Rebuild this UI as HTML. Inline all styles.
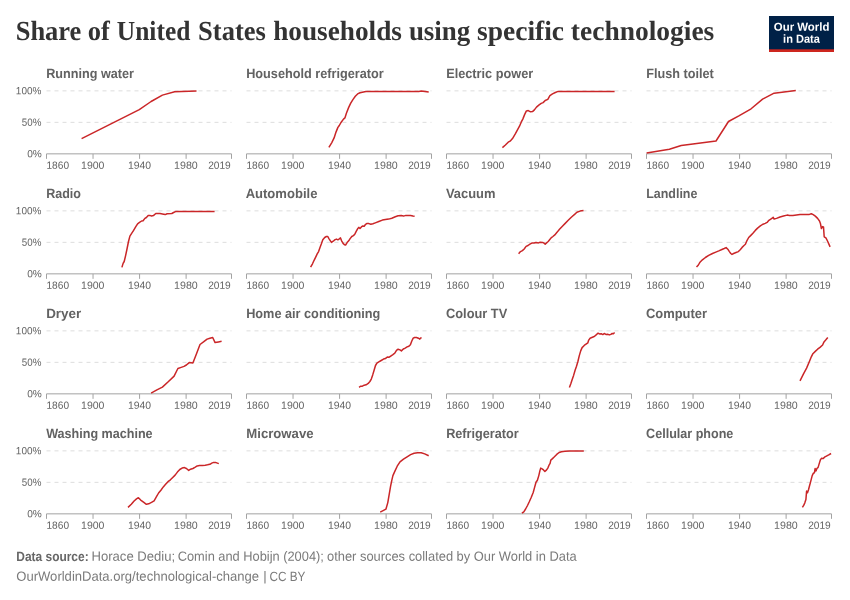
<!DOCTYPE html>
<html><head><meta charset="utf-8"><title>Share of United States households using specific technologies</title>
<style>
html,body{margin:0;padding:0;background:#fff;}
body{width:850px;height:600px;overflow:hidden;font-family:"Liberation Sans",sans-serif;}
svg{display:block;will-change:transform;}
svg text{font-family:"Liberation Sans",sans-serif;text-rendering:geometricPrecision;}
.ttl{font-family:"Liberation Serif",serif;font-weight:bold;font-size:27.6px;fill:#333333;}
.pt{font-size:13.5px;font-weight:bold;fill:#626262;}
.tk{font-size:10.4px;fill:#636363;}
.ft{font-size:13.4px;fill:#7a7a7a;}
.ftb{font-weight:bold;fill:#676767;}
.lg{font-size:11.6px;font-weight:bold;fill:#ffffff;}
.gl{stroke:#dddddd;stroke-width:1;stroke-dasharray:4 4;fill:none;}
.ax{stroke:#a3a3a3;stroke-width:1;fill:none;}
.ln{stroke:#ca2628;stroke-width:1.5;fill:none;stroke-linejoin:round;stroke-linecap:butt;}
</style></head><body>
<svg width="850" height="600" viewBox="0 0 850 600">
<rect x="0" y="0" width="850" height="600" fill="#ffffff"/>
<text transform="rotate(0.03 15.67 40.0)" class="ttl" x="15.67" y="40.0" textLength="65.72" lengthAdjust="spacingAndGlyphs">Share</text>
<text transform="rotate(0.03 87.81 40.0)" class="ttl" x="87.81" y="40.0" textLength="22.06" lengthAdjust="spacingAndGlyphs">of</text>
<text transform="rotate(0.03 116.86 40.0)" class="ttl" x="116.86" y="40.0" textLength="73.47" lengthAdjust="spacingAndGlyphs">United</text>
<text transform="rotate(0.03 198.10 40.0)" class="ttl" x="198.10" y="40.0" textLength="67.78" lengthAdjust="spacingAndGlyphs">States</text>
<text transform="rotate(0.03 273.21 40.0)" class="ttl" x="273.21" y="40.0" textLength="128.71" lengthAdjust="spacingAndGlyphs">households</text>
<text transform="rotate(0.03 408.89 40.0)" class="ttl" x="408.89" y="40.0" textLength="61.46" lengthAdjust="spacingAndGlyphs">using</text>
<text transform="rotate(0.03 477.06 40.0)" class="ttl" x="477.06" y="40.0" textLength="87.00" lengthAdjust="spacingAndGlyphs">specific</text>
<text transform="rotate(0.03 570.86 40.0)" class="ttl" x="570.86" y="40.0" textLength="143.42" lengthAdjust="spacingAndGlyphs">technologies</text>
<g>
<rect x="769" y="16" width="65" height="36" fill="#002147"/>
<rect x="769" y="49.3" width="65" height="2.7" fill="#ce261e"/>
<text transform="rotate(0.03 801.6 30.7)" class="lg" x="801.6" y="30.7" text-anchor="middle" textLength="55.6" lengthAdjust="spacingAndGlyphs">Our World</text>
<text transform="rotate(0.03 801.5 42.8)" class="lg" x="801.5" y="42.8" text-anchor="middle" textLength="36.8" lengthAdjust="spacingAndGlyphs">in Data</text>
</g>
<g>
<text transform="rotate(0.03 46.20 78.0)" class="pt" x="46.20" y="78.0" textLength="87.69" lengthAdjust="spacingAndGlyphs">Running water</text>
<path class="gl" d="M46.50 90.85H231.50 M46.50 122.35H231.50"/>
<path class="ax" d="M46.50 153.85H231.50 M46.50 153.85V158.85 M93.04 153.85V158.85 M139.58 153.85V158.85 M186.12 153.85V158.85 M231.50 153.85V158.85"/>
<text transform="rotate(0.03 46.47 168.80)" class="tk" x="46.47" y="168.80" textLength="22.57" lengthAdjust="spacingAndGlyphs">1860</text>
<text transform="rotate(0.03 81.05 168.80)" class="tk" x="81.05" y="168.80" textLength="23.41" lengthAdjust="spacingAndGlyphs">1900</text>
<text transform="rotate(0.03 127.98 168.80)" class="tk" x="127.98" y="168.80" textLength="23.16" lengthAdjust="spacingAndGlyphs">1940</text>
<text transform="rotate(0.03 174.04 168.80)" class="tk" x="174.04" y="168.80" textLength="23.76" lengthAdjust="spacingAndGlyphs">1980</text>
<text transform="rotate(0.03 208.13 168.80)" class="tk" x="208.13" y="168.80" textLength="22.65" lengthAdjust="spacingAndGlyphs">2019</text>
<text transform="rotate(0.03 15.87 94.20)" class="tk" x="15.87" y="94.20" textLength="25.49" lengthAdjust="spacingAndGlyphs">100%</text>
<text transform="rotate(0.03 21.85 125.70)" class="tk" x="21.85" y="125.70" textLength="19.57" lengthAdjust="spacingAndGlyphs">50%</text>
<text transform="rotate(0.03 27.20 157.20)" class="tk" x="27.20" y="157.20" textLength="14.61" lengthAdjust="spacingAndGlyphs">0%</text>
<path class="ln" d="M81.6 138.6L139.3 109.7L151.1 101.5L162.4 95.1L174.6 91.8L196.5 91.1"/>
</g>
<g>
<text transform="rotate(0.03 246.17 78.0)" class="pt" x="246.17" y="78.0" textLength="137.54" lengthAdjust="spacingAndGlyphs">Household refrigerator</text>
<path class="gl" d="M246.50 90.85H431.50 M246.50 122.35H431.50"/>
<path class="ax" d="M246.50 153.85H431.50 M246.50 153.85V158.85 M293.04 153.85V158.85 M339.58 153.85V158.85 M386.12 153.85V158.85 M431.50 153.85V158.85"/>
<text transform="rotate(0.03 246.47 168.80)" class="tk" x="246.47" y="168.80" textLength="22.57" lengthAdjust="spacingAndGlyphs">1860</text>
<text transform="rotate(0.03 281.05 168.80)" class="tk" x="281.05" y="168.80" textLength="23.41" lengthAdjust="spacingAndGlyphs">1900</text>
<text transform="rotate(0.03 327.98 168.80)" class="tk" x="327.98" y="168.80" textLength="23.16" lengthAdjust="spacingAndGlyphs">1940</text>
<text transform="rotate(0.03 374.04 168.80)" class="tk" x="374.04" y="168.80" textLength="23.76" lengthAdjust="spacingAndGlyphs">1980</text>
<text transform="rotate(0.03 408.13 168.80)" class="tk" x="408.13" y="168.80" textLength="22.65" lengthAdjust="spacingAndGlyphs">2019</text>
<path class="ln" d="M328.9 147.4L331.8 142.6L334.1 137.9L336.0 132.1L337.9 127.4L339.3 125.5L341.2 122.2L343.5 119.1L344.9 117.9L346.4 113.2L348.7 107.4L350.6 103.4L352.9 99.6L355.3 96.3L357.6 93.9L360.0 92.8L365.9 91.4L418.8 91.4L421.2 91.1L428.7 92.1"/>
</g>
<g>
<text transform="rotate(0.03 446.16 78.0)" class="pt" x="446.16" y="78.0" textLength="87.02" lengthAdjust="spacingAndGlyphs">Electric power</text>
<path class="gl" d="M446.50 90.85H631.50 M446.50 122.35H631.50"/>
<path class="ax" d="M446.50 153.85H631.50 M446.50 153.85V158.85 M493.04 153.85V158.85 M539.58 153.85V158.85 M586.12 153.85V158.85 M631.50 153.85V158.85"/>
<text transform="rotate(0.03 446.47 168.80)" class="tk" x="446.47" y="168.80" textLength="22.57" lengthAdjust="spacingAndGlyphs">1860</text>
<text transform="rotate(0.03 481.05 168.80)" class="tk" x="481.05" y="168.80" textLength="23.41" lengthAdjust="spacingAndGlyphs">1900</text>
<text transform="rotate(0.03 527.98 168.80)" class="tk" x="527.98" y="168.80" textLength="23.16" lengthAdjust="spacingAndGlyphs">1940</text>
<text transform="rotate(0.03 574.04 168.80)" class="tk" x="574.04" y="168.80" textLength="23.76" lengthAdjust="spacingAndGlyphs">1980</text>
<text transform="rotate(0.03 608.13 168.80)" class="tk" x="608.13" y="168.80" textLength="22.65" lengthAdjust="spacingAndGlyphs">2019</text>
<path class="ln" d="M502.4 147.6L505.4 145.0L508.2 142.2L510.1 141.2L512.5 138.6L515.3 133.9L517.6 129.7L519.5 126.2L521.2 122.2L522.8 119.1L524.7 114.4L526.4 110.9L528.2 110.6L530.6 111.8L532.5 111.6L534.4 109.9L536.5 107.1L538.8 105.2L541.2 103.4L543.1 102.6L545.2 100.5L547.8 99.4L549.9 95.6L552.5 93.9L555.3 92.5L558.1 91.4L614.6 91.4"/>
</g>
<g>
<text transform="rotate(0.03 646.20 78.0)" class="pt" x="646.20" y="78.0" textLength="67.47" lengthAdjust="spacingAndGlyphs">Flush toilet</text>
<path class="gl" d="M646.50 90.85H831.50 M646.50 122.35H831.50"/>
<path class="ax" d="M646.50 153.85H831.50 M646.50 153.85V158.85 M693.04 153.85V158.85 M739.58 153.85V158.85 M786.12 153.85V158.85 M831.50 153.85V158.85"/>
<text transform="rotate(0.03 646.47 168.80)" class="tk" x="646.47" y="168.80" textLength="22.57" lengthAdjust="spacingAndGlyphs">1860</text>
<text transform="rotate(0.03 681.05 168.80)" class="tk" x="681.05" y="168.80" textLength="23.41" lengthAdjust="spacingAndGlyphs">1900</text>
<text transform="rotate(0.03 727.98 168.80)" class="tk" x="727.98" y="168.80" textLength="23.16" lengthAdjust="spacingAndGlyphs">1940</text>
<text transform="rotate(0.03 774.04 168.80)" class="tk" x="774.04" y="168.80" textLength="23.76" lengthAdjust="spacingAndGlyphs">1980</text>
<text transform="rotate(0.03 808.13 168.80)" class="tk" x="808.13" y="168.80" textLength="22.65" lengthAdjust="spacingAndGlyphs">2019</text>
<path class="ln" d="M646.6 153.0L669.4 149.2L681.2 145.5L692.9 144.1L716.0 141.0L728.5 121.5L739.3 115.6L751.1 108.8L762.6 99.1L774.1 93.2L795.8 90.6"/>
</g>
<g>
<text transform="rotate(0.03 46.22 198.0)" class="pt" x="46.22" y="198.0" textLength="34.78" lengthAdjust="spacingAndGlyphs">Radio</text>
<path class="gl" d="M46.50 210.85H231.50 M46.50 242.35H231.50"/>
<path class="ax" d="M46.50 273.85H231.50 M46.50 273.85V278.85 M93.04 273.85V278.85 M139.58 273.85V278.85 M186.12 273.85V278.85 M231.50 273.85V278.85"/>
<text transform="rotate(0.03 46.47 288.80)" class="tk" x="46.47" y="288.80" textLength="22.57" lengthAdjust="spacingAndGlyphs">1860</text>
<text transform="rotate(0.03 81.05 288.80)" class="tk" x="81.05" y="288.80" textLength="23.41" lengthAdjust="spacingAndGlyphs">1900</text>
<text transform="rotate(0.03 127.98 288.80)" class="tk" x="127.98" y="288.80" textLength="23.16" lengthAdjust="spacingAndGlyphs">1940</text>
<text transform="rotate(0.03 174.04 288.80)" class="tk" x="174.04" y="288.80" textLength="23.76" lengthAdjust="spacingAndGlyphs">1980</text>
<text transform="rotate(0.03 208.13 288.80)" class="tk" x="208.13" y="288.80" textLength="22.65" lengthAdjust="spacingAndGlyphs">2019</text>
<text transform="rotate(0.03 15.87 214.20)" class="tk" x="15.87" y="214.20" textLength="25.49" lengthAdjust="spacingAndGlyphs">100%</text>
<text transform="rotate(0.03 21.85 245.70)" class="tk" x="21.85" y="245.70" textLength="19.57" lengthAdjust="spacingAndGlyphs">50%</text>
<text transform="rotate(0.03 27.20 277.20)" class="tk" x="27.20" y="277.20" textLength="14.61" lengthAdjust="spacingAndGlyphs">0%</text>
<path class="ln" d="M121.9 267.4L123.1 263.4L124.2 261.5L125.6 255.6L127.1 248.5L128.5 241.5L129.9 236.1L131.8 233.2L133.6 230.4L135.8 226.6L137.6 223.8L139.5 222.4L141.6 221.0L143.1 220.8L144.9 218.4L146.4 217.5L148.2 215.6L149.9 215.4L151.5 216.1L153.4 215.6L155.8 213.5L160.0 213.5L162.4 213.9L165.2 214.6L167.1 213.7L171.8 213.5L173.6 212.5L176.0 211.4L214.6 211.4"/>
</g>
<g>
<text transform="rotate(0.03 245.63 198.0)" class="pt" x="245.63" y="198.0" textLength="71.78" lengthAdjust="spacingAndGlyphs">Automobile</text>
<path class="gl" d="M246.50 210.85H431.50 M246.50 242.35H431.50"/>
<path class="ax" d="M246.50 273.85H431.50 M246.50 273.85V278.85 M293.04 273.85V278.85 M339.58 273.85V278.85 M386.12 273.85V278.85 M431.50 273.85V278.85"/>
<text transform="rotate(0.03 246.47 288.80)" class="tk" x="246.47" y="288.80" textLength="22.57" lengthAdjust="spacingAndGlyphs">1860</text>
<text transform="rotate(0.03 281.05 288.80)" class="tk" x="281.05" y="288.80" textLength="23.41" lengthAdjust="spacingAndGlyphs">1900</text>
<text transform="rotate(0.03 327.98 288.80)" class="tk" x="327.98" y="288.80" textLength="23.16" lengthAdjust="spacingAndGlyphs">1940</text>
<text transform="rotate(0.03 374.04 288.80)" class="tk" x="374.04" y="288.80" textLength="23.76" lengthAdjust="spacingAndGlyphs">1980</text>
<text transform="rotate(0.03 408.13 288.80)" class="tk" x="408.13" y="288.80" textLength="22.65" lengthAdjust="spacingAndGlyphs">2019</text>
<path class="ln" d="M310.6 267.1L312.5 263.8L314.1 260.3L315.8 256.8L317.2 253.9L318.6 251.6L320.0 247.4L321.4 243.8L322.8 239.8L324.7 237.5L326.4 236.5L327.8 236.5L328.9 238.6L330.4 240.8L331.5 242.4L333.2 241.2L335.1 239.6L336.5 239.1L337.9 239.8L339.3 238.9L340.5 237.9L341.6 240.8L343.1 243.4L344.5 244.8L345.6 245.0L347.1 242.6L348.7 240.8L350.1 238.6L351.8 236.5L353.4 235.6L354.8 234.2L356.2 231.4L357.6 228.8L358.8 227.4L360.0 228.5L361.4 226.9L362.8 225.9L364.2 226.2L365.6 224.3L367.1 223.4L368.9 223.6L370.8 224.3L372.9 223.8L375.3 222.9L378.8 221.5L382.4 220.1L385.4 219.6L388.7 219.1L391.8 218.2L395.3 216.8L398.1 215.8L401.2 215.6L403.5 216.1L405.9 215.4L408.2 215.6L410.6 215.6L412.9 216.1L414.6 216.3"/>
</g>
<g>
<text transform="rotate(0.03 445.93 198.0)" class="pt" x="445.93" y="198.0" textLength="49.51" lengthAdjust="spacingAndGlyphs">Vacuum</text>
<path class="gl" d="M446.50 210.85H631.50 M446.50 242.35H631.50"/>
<path class="ax" d="M446.50 273.85H631.50 M446.50 273.85V278.85 M493.04 273.85V278.85 M539.58 273.85V278.85 M586.12 273.85V278.85 M631.50 273.85V278.85"/>
<text transform="rotate(0.03 446.47 288.80)" class="tk" x="446.47" y="288.80" textLength="22.57" lengthAdjust="spacingAndGlyphs">1860</text>
<text transform="rotate(0.03 481.05 288.80)" class="tk" x="481.05" y="288.80" textLength="23.41" lengthAdjust="spacingAndGlyphs">1900</text>
<text transform="rotate(0.03 527.98 288.80)" class="tk" x="527.98" y="288.80" textLength="23.16" lengthAdjust="spacingAndGlyphs">1940</text>
<text transform="rotate(0.03 574.04 288.80)" class="tk" x="574.04" y="288.80" textLength="23.76" lengthAdjust="spacingAndGlyphs">1980</text>
<text transform="rotate(0.03 608.13 288.80)" class="tk" x="608.13" y="288.80" textLength="22.65" lengthAdjust="spacingAndGlyphs">2019</text>
<path class="ln" d="M518.6 253.7L520.5 251.6L522.4 250.6L524.2 249.0L526.1 246.4L528.0 245.5L529.9 244.1L531.8 243.1L534.1 243.1L536.0 242.6L538.4 242.9L540.2 242.2L542.6 242.4L544.0 243.1L545.2 244.1L546.6 242.9L548.2 241.5L549.6 239.8L551.1 237.9L552.9 236.5L554.8 234.9L557.2 232.1L559.5 229.2L562.4 226.2L565.2 223.4L568.2 220.3L571.3 217.2L574.6 214.4L576.9 212.3L580.0 211.1L583.5 210.6"/>
</g>
<g>
<text transform="rotate(0.03 646.24 198.0)" class="pt" x="646.24" y="198.0" textLength="51.17" lengthAdjust="spacingAndGlyphs">Landline</text>
<path class="gl" d="M646.50 210.85H831.50 M646.50 242.35H831.50"/>
<path class="ax" d="M646.50 273.85H831.50 M646.50 273.85V278.85 M693.04 273.85V278.85 M739.58 273.85V278.85 M786.12 273.85V278.85 M831.50 273.85V278.85"/>
<text transform="rotate(0.03 646.47 288.80)" class="tk" x="646.47" y="288.80" textLength="22.57" lengthAdjust="spacingAndGlyphs">1860</text>
<text transform="rotate(0.03 681.05 288.80)" class="tk" x="681.05" y="288.80" textLength="23.41" lengthAdjust="spacingAndGlyphs">1900</text>
<text transform="rotate(0.03 727.98 288.80)" class="tk" x="727.98" y="288.80" textLength="23.16" lengthAdjust="spacingAndGlyphs">1940</text>
<text transform="rotate(0.03 774.04 288.80)" class="tk" x="774.04" y="288.80" textLength="23.76" lengthAdjust="spacingAndGlyphs">1980</text>
<text transform="rotate(0.03 808.13 288.80)" class="tk" x="808.13" y="288.80" textLength="22.65" lengthAdjust="spacingAndGlyphs">2019</text>
<path class="ln" d="M696.5 267.1L698.4 265.0L700.0 262.2L702.4 259.8L705.4 257.5L708.7 255.4L712.5 253.5L715.8 252.1L718.8 250.9L721.9 249.5L724.2 248.5L726.1 247.6L727.8 249.2L729.4 251.6L730.8 253.5L732.0 254.4L733.6 253.5L736.0 252.5L738.4 251.6L740.2 249.7L742.1 247.4L744.0 245.5L745.4 244.3L747.1 240.3L748.7 237.5L750.6 235.6L752.9 233.2L755.3 230.4L757.6 228.1L760.0 226.2L762.4 224.5L765.2 223.4L767.1 222.4L768.9 220.3L770.8 219.1L772.2 218.2L773.2 217.2L774.1 219.1L776.5 218.4L780.0 217.0L783.5 216.1L787.1 215.1L789.4 215.6L792.9 215.4L796.5 214.9L800.0 214.4L804.7 214.4L809.4 214.4L811.3 213.7L813.2 214.6L815.3 216.1L817.6 218.4L819.5 221.0L820.5 223.8L821.4 228.5L822.6 226.6L823.5 226.9L824.2 236.8L825.9 237.9L827.5 241.0L828.9 244.1L830.1 246.9"/>
</g>
<g>
<text transform="rotate(0.03 46.13 318.0)" class="pt" x="46.13" y="318.0" textLength="35.06" lengthAdjust="spacingAndGlyphs">Dryer</text>
<path class="gl" d="M46.50 330.85H231.50 M46.50 362.35H231.50"/>
<path class="ax" d="M46.50 393.85H231.50 M46.50 393.85V398.85 M93.04 393.85V398.85 M139.58 393.85V398.85 M186.12 393.85V398.85 M231.50 393.85V398.85"/>
<text transform="rotate(0.03 46.47 408.80)" class="tk" x="46.47" y="408.80" textLength="22.57" lengthAdjust="spacingAndGlyphs">1860</text>
<text transform="rotate(0.03 81.05 408.80)" class="tk" x="81.05" y="408.80" textLength="23.41" lengthAdjust="spacingAndGlyphs">1900</text>
<text transform="rotate(0.03 127.98 408.80)" class="tk" x="127.98" y="408.80" textLength="23.16" lengthAdjust="spacingAndGlyphs">1940</text>
<text transform="rotate(0.03 174.04 408.80)" class="tk" x="174.04" y="408.80" textLength="23.76" lengthAdjust="spacingAndGlyphs">1980</text>
<text transform="rotate(0.03 208.13 408.80)" class="tk" x="208.13" y="408.80" textLength="22.65" lengthAdjust="spacingAndGlyphs">2019</text>
<text transform="rotate(0.03 15.87 334.20)" class="tk" x="15.87" y="334.20" textLength="25.49" lengthAdjust="spacingAndGlyphs">100%</text>
<text transform="rotate(0.03 21.85 365.70)" class="tk" x="21.85" y="365.70" textLength="19.57" lengthAdjust="spacingAndGlyphs">50%</text>
<text transform="rotate(0.03 27.20 397.20)" class="tk" x="27.20" y="397.20" textLength="14.61" lengthAdjust="spacingAndGlyphs">0%</text>
<path class="ln" d="M151.1 393.2L156.9 389.9L162.4 387.1L168.5 381.5L174.1 376.1L177.9 368.5L181.2 367.4L184.0 366.4L186.4 365.0L189.2 362.6L192.9 363.1L196.5 353.7L200.0 344.5L203.5 341.9L207.1 339.1L209.9 338.2L212.7 337.5L215.1 342.6L218.4 341.9L221.6 341.2"/>
</g>
<g>
<text transform="rotate(0.03 246.17 318.0)" class="pt" x="246.17" y="318.0" textLength="134.13" lengthAdjust="spacingAndGlyphs">Home air conditioning</text>
<path class="gl" d="M246.50 330.85H431.50 M246.50 362.35H431.50"/>
<path class="ax" d="M246.50 393.85H431.50 M246.50 393.85V398.85 M293.04 393.85V398.85 M339.58 393.85V398.85 M386.12 393.85V398.85 M431.50 393.85V398.85"/>
<text transform="rotate(0.03 246.47 408.80)" class="tk" x="246.47" y="408.80" textLength="22.57" lengthAdjust="spacingAndGlyphs">1860</text>
<text transform="rotate(0.03 281.05 408.80)" class="tk" x="281.05" y="408.80" textLength="23.41" lengthAdjust="spacingAndGlyphs">1900</text>
<text transform="rotate(0.03 327.98 408.80)" class="tk" x="327.98" y="408.80" textLength="23.16" lengthAdjust="spacingAndGlyphs">1940</text>
<text transform="rotate(0.03 374.04 408.80)" class="tk" x="374.04" y="408.80" textLength="23.76" lengthAdjust="spacingAndGlyphs">1980</text>
<text transform="rotate(0.03 408.13 408.80)" class="tk" x="408.13" y="408.80" textLength="22.65" lengthAdjust="spacingAndGlyphs">2019</text>
<path class="ln" d="M359.1 387.4L360.5 386.2L362.4 386.2L364.2 385.2L366.1 384.8L368.2 383.4L369.9 381.5L371.3 379.1L372.7 374.9L374.1 370.2L375.5 365.5L376.9 363.1L378.8 361.9L381.2 360.5L383.5 359.1L385.4 358.6L387.3 357.0L389.2 357.2L391.1 355.8L392.9 354.6L394.8 353.2L396.5 350.4L398.1 349.2L400.0 349.9L401.4 350.9L403.3 349.0L405.2 348.1L407.1 346.9L408.9 346.2L410.4 344.8L411.8 341.0L413.2 338.2L414.6 337.5L416.5 337.5L418.4 338.2L419.8 339.1L420.7 337.9L421.6 337.7"/>
</g>
<g>
<text transform="rotate(0.03 446.00 318.0)" class="pt" x="446.00" y="318.0" textLength="61.25" lengthAdjust="spacingAndGlyphs">Colour TV</text>
<path class="gl" d="M446.50 330.85H631.50 M446.50 362.35H631.50"/>
<path class="ax" d="M446.50 393.85H631.50 M446.50 393.85V398.85 M493.04 393.85V398.85 M539.58 393.85V398.85 M586.12 393.85V398.85 M631.50 393.85V398.85"/>
<text transform="rotate(0.03 446.47 408.80)" class="tk" x="446.47" y="408.80" textLength="22.57" lengthAdjust="spacingAndGlyphs">1860</text>
<text transform="rotate(0.03 481.05 408.80)" class="tk" x="481.05" y="408.80" textLength="23.41" lengthAdjust="spacingAndGlyphs">1900</text>
<text transform="rotate(0.03 527.98 408.80)" class="tk" x="527.98" y="408.80" textLength="23.16" lengthAdjust="spacingAndGlyphs">1940</text>
<text transform="rotate(0.03 574.04 408.80)" class="tk" x="574.04" y="408.80" textLength="23.76" lengthAdjust="spacingAndGlyphs">1980</text>
<text transform="rotate(0.03 608.13 408.80)" class="tk" x="608.13" y="408.80" textLength="22.65" lengthAdjust="spacingAndGlyphs">2019</text>
<path class="ln" d="M569.4 387.4L570.8 383.8L572.2 379.6L573.6 375.4L575.1 370.2L576.5 366.2L577.9 361.5L579.3 355.6L580.7 350.9L582.1 347.6L583.5 346.2L584.9 344.8L586.4 343.8L587.8 342.9L588.7 340.1L590.1 338.2L591.8 337.5L593.6 336.8L595.3 335.6L596.9 334.2L598.1 333.2L599.5 333.9L601.2 333.7L602.8 334.6L604.2 333.5L605.9 334.4L607.5 334.2L609.4 334.9L610.8 334.4L612.2 333.5L613.4 333.7L614.6 332.5"/>
</g>
<g>
<text transform="rotate(0.03 645.95 318.0)" class="pt" x="645.95" y="318.0" textLength="61.07" lengthAdjust="spacingAndGlyphs">Computer</text>
<path class="gl" d="M646.50 330.85H831.50 M646.50 362.35H831.50"/>
<path class="ax" d="M646.50 393.85H831.50 M646.50 393.85V398.85 M693.04 393.85V398.85 M739.58 393.85V398.85 M786.12 393.85V398.85 M831.50 393.85V398.85"/>
<text transform="rotate(0.03 646.47 408.80)" class="tk" x="646.47" y="408.80" textLength="22.57" lengthAdjust="spacingAndGlyphs">1860</text>
<text transform="rotate(0.03 681.05 408.80)" class="tk" x="681.05" y="408.80" textLength="23.41" lengthAdjust="spacingAndGlyphs">1900</text>
<text transform="rotate(0.03 727.98 408.80)" class="tk" x="727.98" y="408.80" textLength="23.16" lengthAdjust="spacingAndGlyphs">1940</text>
<text transform="rotate(0.03 774.04 408.80)" class="tk" x="774.04" y="408.80" textLength="23.76" lengthAdjust="spacingAndGlyphs">1980</text>
<text transform="rotate(0.03 808.13 408.80)" class="tk" x="808.13" y="408.80" textLength="22.65" lengthAdjust="spacingAndGlyphs">2019</text>
<path class="ln" d="M800.0 380.8L803.5 373.9L806.6 368.1L809.4 361.5L811.3 356.8L812.9 353.7L815.3 351.4L817.6 349.2L820.0 347.4L822.6 345.0L824.0 341.9L825.9 339.8L827.8 337.5"/>
</g>
<g>
<text transform="rotate(0.03 46.15 438.0)" class="pt" x="46.15" y="438.0" textLength="106.49" lengthAdjust="spacingAndGlyphs">Washing machine</text>
<path class="gl" d="M46.50 450.85H231.50 M46.50 482.35H231.50"/>
<path class="ax" d="M46.50 513.85H231.50 M46.50 513.85V518.85 M93.04 513.85V518.85 M139.58 513.85V518.85 M186.12 513.85V518.85 M231.50 513.85V518.85"/>
<text transform="rotate(0.03 46.47 528.80)" class="tk" x="46.47" y="528.80" textLength="22.57" lengthAdjust="spacingAndGlyphs">1860</text>
<text transform="rotate(0.03 81.05 528.80)" class="tk" x="81.05" y="528.80" textLength="23.41" lengthAdjust="spacingAndGlyphs">1900</text>
<text transform="rotate(0.03 127.98 528.80)" class="tk" x="127.98" y="528.80" textLength="23.16" lengthAdjust="spacingAndGlyphs">1940</text>
<text transform="rotate(0.03 174.04 528.80)" class="tk" x="174.04" y="528.80" textLength="23.76" lengthAdjust="spacingAndGlyphs">1980</text>
<text transform="rotate(0.03 208.13 528.80)" class="tk" x="208.13" y="528.80" textLength="22.65" lengthAdjust="spacingAndGlyphs">2019</text>
<text transform="rotate(0.03 15.87 454.20)" class="tk" x="15.87" y="454.20" textLength="25.49" lengthAdjust="spacingAndGlyphs">100%</text>
<text transform="rotate(0.03 21.85 485.70)" class="tk" x="21.85" y="485.70" textLength="19.57" lengthAdjust="spacingAndGlyphs">50%</text>
<text transform="rotate(0.03 27.20 517.20)" class="tk" x="27.20" y="517.20" textLength="14.61" lengthAdjust="spacingAndGlyphs">0%</text>
<path class="ln" d="M128.0 507.4L131.3 504.3L134.1 501.0L136.5 498.9L138.4 497.7L140.7 500.1L143.5 502.2L146.4 504.3L148.7 503.8L151.5 502.4L154.1 500.8L156.2 497.2L158.6 493.0L160.9 490.2L163.3 486.9L165.6 484.3L168.0 481.7L170.4 479.8L172.7 477.5L175.1 475.1L177.4 472.1L179.8 469.5L182.1 468.1L184.5 467.6L186.4 468.5L188.7 470.4L190.6 469.2L192.9 468.5L195.3 467.1L197.2 465.9L199.5 465.5L202.4 465.5L205.2 465.2L207.5 464.8L209.9 464.3L211.8 463.1L213.6 462.4L215.5 462.4L217.4 463.1L218.8 463.6"/>
</g>
<g>
<text transform="rotate(0.03 246.27 438.0)" class="pt" x="246.27" y="438.0" textLength="67.31" lengthAdjust="spacingAndGlyphs">Microwave</text>
<path class="gl" d="M246.50 450.85H431.50 M246.50 482.35H431.50"/>
<path class="ax" d="M246.50 513.85H431.50 M246.50 513.85V518.85 M293.04 513.85V518.85 M339.58 513.85V518.85 M386.12 513.85V518.85 M431.50 513.85V518.85"/>
<text transform="rotate(0.03 246.47 528.80)" class="tk" x="246.47" y="528.80" textLength="22.57" lengthAdjust="spacingAndGlyphs">1860</text>
<text transform="rotate(0.03 281.05 528.80)" class="tk" x="281.05" y="528.80" textLength="23.41" lengthAdjust="spacingAndGlyphs">1900</text>
<text transform="rotate(0.03 327.98 528.80)" class="tk" x="327.98" y="528.80" textLength="23.16" lengthAdjust="spacingAndGlyphs">1940</text>
<text transform="rotate(0.03 374.04 528.80)" class="tk" x="374.04" y="528.80" textLength="23.76" lengthAdjust="spacingAndGlyphs">1980</text>
<text transform="rotate(0.03 408.13 528.80)" class="tk" x="408.13" y="528.80" textLength="22.65" lengthAdjust="spacingAndGlyphs">2019</text>
<path class="ln" d="M380.2 512.1L383.1 510.6L385.9 509.2L387.8 502.6L389.2 494.4L390.6 486.2L391.8 480.3L392.9 475.6L394.8 471.4L397.2 466.2L400.0 461.9L403.5 459.1L407.1 456.8L410.6 454.6L414.1 453.2L417.6 452.8L421.2 452.8L424.7 453.9L428.7 455.8"/>
</g>
<g>
<text transform="rotate(0.03 446.17 438.0)" class="pt" x="446.17" y="438.0" textLength="72.55" lengthAdjust="spacingAndGlyphs">Refrigerator</text>
<path class="gl" d="M446.50 450.85H631.50 M446.50 482.35H631.50"/>
<path class="ax" d="M446.50 513.85H631.50 M446.50 513.85V518.85 M493.04 513.85V518.85 M539.58 513.85V518.85 M586.12 513.85V518.85 M631.50 513.85V518.85"/>
<text transform="rotate(0.03 446.47 528.80)" class="tk" x="446.47" y="528.80" textLength="22.57" lengthAdjust="spacingAndGlyphs">1860</text>
<text transform="rotate(0.03 481.05 528.80)" class="tk" x="481.05" y="528.80" textLength="23.41" lengthAdjust="spacingAndGlyphs">1900</text>
<text transform="rotate(0.03 527.98 528.80)" class="tk" x="527.98" y="528.80" textLength="23.16" lengthAdjust="spacingAndGlyphs">1940</text>
<text transform="rotate(0.03 574.04 528.80)" class="tk" x="574.04" y="528.80" textLength="23.76" lengthAdjust="spacingAndGlyphs">1980</text>
<text transform="rotate(0.03 608.13 528.80)" class="tk" x="608.13" y="528.80" textLength="22.65" lengthAdjust="spacingAndGlyphs">2019</text>
<path class="ln" d="M521.9 513.2L523.8 511.8L525.6 509.0L527.5 505.5L529.4 501.5L531.3 497.2L533.2 492.5L534.6 487.4L536.0 482.2L537.4 480.3L538.8 475.6L540.0 470.4L540.7 468.1L542.1 468.8L543.5 469.9L544.9 471.4L546.4 470.2L547.8 468.1L549.2 464.8L550.1 463.4L550.8 460.1L552.5 458.6L554.4 456.8L556.7 454.4L559.1 452.5L561.4 451.8L564.9 451.3L569.9 451.0L576.5 450.9L583.8 450.9"/>
</g>
<g>
<text transform="rotate(0.03 646.09 438.0)" class="pt" x="646.09" y="438.0" textLength="87.28" lengthAdjust="spacingAndGlyphs">Cellular phone</text>
<path class="gl" d="M646.50 450.85H831.50 M646.50 482.35H831.50"/>
<path class="ax" d="M646.50 513.85H831.50 M646.50 513.85V518.85 M693.04 513.85V518.85 M739.58 513.85V518.85 M786.12 513.85V518.85 M831.50 513.85V518.85"/>
<text transform="rotate(0.03 646.47 528.80)" class="tk" x="646.47" y="528.80" textLength="22.57" lengthAdjust="spacingAndGlyphs">1860</text>
<text transform="rotate(0.03 681.05 528.80)" class="tk" x="681.05" y="528.80" textLength="23.41" lengthAdjust="spacingAndGlyphs">1900</text>
<text transform="rotate(0.03 727.98 528.80)" class="tk" x="727.98" y="528.80" textLength="23.16" lengthAdjust="spacingAndGlyphs">1940</text>
<text transform="rotate(0.03 774.04 528.80)" class="tk" x="774.04" y="528.80" textLength="23.76" lengthAdjust="spacingAndGlyphs">1980</text>
<text transform="rotate(0.03 808.13 528.80)" class="tk" x="808.13" y="528.80" textLength="22.65" lengthAdjust="spacingAndGlyphs">2019</text>
<path class="ln" d="M802.4 507.4L803.8 505.2L804.9 502.6L805.9 499.6L806.6 491.1L807.5 492.8L808.5 489.7L809.4 486.2L810.4 482.6L811.3 479.1L812.2 475.6L813.4 473.2L814.4 472.8L815.1 468.5L816.0 470.9L816.9 468.5L818.1 467.4L819.3 463.4L820.5 459.6L821.6 458.2L823.1 458.6L824.5 457.2L826.4 456.1L828.7 454.9L831.1 453.5"/>
</g>
<text transform="rotate(0.03 16.27 560.7)" class="ft ftb" x="16.27" y="560.7" textLength="72.38" lengthAdjust="spacingAndGlyphs">Data source:</text>
<text transform="rotate(0.03 91.54 560.7)" class="ft" x="91.54" y="560.7" textLength="83.57" lengthAdjust="spacingAndGlyphs">Horace Dediu;</text>
<text transform="rotate(0.03 177.72 560.7)" class="ft" x="177.72" y="560.7" textLength="146.13" lengthAdjust="spacingAndGlyphs">Comin and Hobijn (2004);</text>
<text transform="rotate(0.03 327.00 560.7)" class="ft" x="327.00" y="560.7" textLength="249.69" lengthAdjust="spacingAndGlyphs">other sources collated by Our World in Data</text>
<text transform="rotate(0.03 16.28 580.7)" class="ft" x="16.28" y="580.7" textLength="242.87" lengthAdjust="spacingAndGlyphs">OurWorldinData.org/technological-change</text>
<text transform="rotate(0.03 263.13 580.7)" class="ft" x="263.13" y="580.7" textLength="3.40" lengthAdjust="spacingAndGlyphs">|</text>
<text transform="rotate(0.03 269.51 580.7)" class="ft" x="269.51" y="580.7" textLength="35.98" lengthAdjust="spacingAndGlyphs">CC BY</text>
</svg>
</body></html>
